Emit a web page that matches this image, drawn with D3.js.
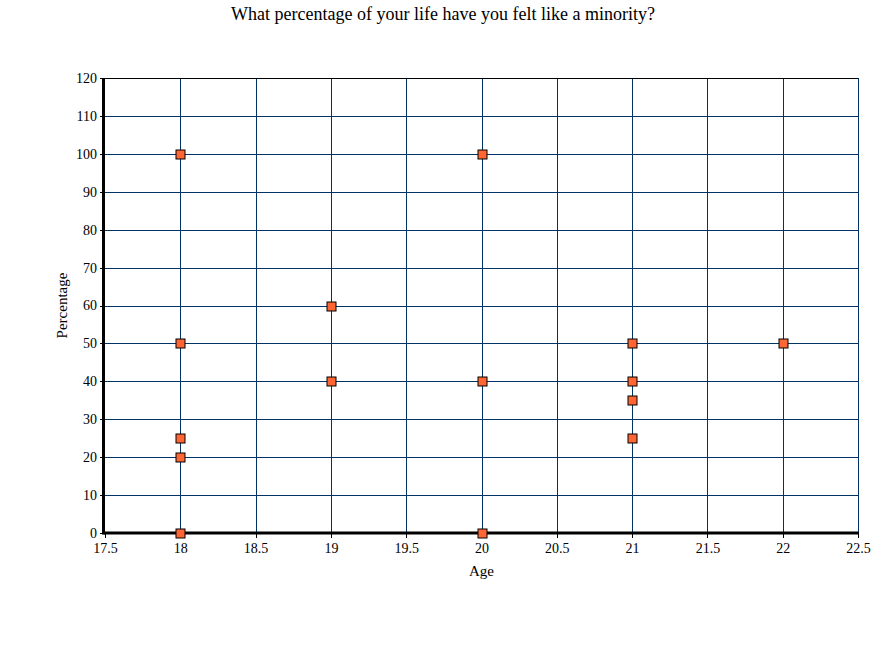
<!DOCTYPE html>
<html>
<head>
<meta charset="utf-8">
<script src="https://cdn.jsdelivr.net/npm/d3@7"></script>
<style>
  body { margin: 0; background: #fff; }
  text { font-family: "Liberation Serif", "Times New Roman", serif; }
</style>
</head>
<body>
<svg width="884" height="650"></svg>
<script>
// Data: age vs. percentage
const ages = [18, 18, 18, 18, 18, 19, 19, 20, 20, 20, 21, 21, 21, 21, 22];
const percentages = [100, 50, 25, 20, 0, 60, 40, 100, 40, 0, 50, 40, 35, 25, 50];
const xTicks = [17.5, 18, 18.5, 19, 19.5, 20, 20.5, 21, 21.5, 22, 22.5];
const yTicks = [0, 10, 20, 30, 40, 50, 60, 70, 80, 90, 100, 110, 120];

const points = ages.map((a, i) => ({ age: a, pct: percentages[i] }));

const margin = { top: 78, right: 26, bottom: 117, left: 105 };
const width = 884 - margin.left - margin.right;
const height = 650 - margin.top - margin.bottom;

const svg = d3.select("svg")
    .append("g")
    .attr("transform", `translate(${margin.left},${margin.top})`);

const x = d3.scaleLinear().domain([17.5, 22.5]).range([0, width]);
const y = d3.scaleLinear().domain([0, 120]).range([height, 0]);
const px = v => Math.round(v) + 0.5;

// grid
svg.selectAll(".vgrid")
    .data(xTicks.slice(1))
    .enter().append("line")
    .attr("x1", d => px(x(d))).attr("x2", d => px(x(d)))
    .attr("y1", 0).attr("y2", height)
    .attr("stroke", "#003366").attr("stroke-width", 1)
    .attr("shape-rendering", "crispEdges");

svg.selectAll(".hgrid")
    .data(yTicks.slice(1, -1))
    .enter().append("line")
    .attr("x1", 0).attr("x2", width)
    .attr("y1", d => px(y(d))).attr("y2", d => px(y(d)))
    .attr("stroke", "#003366").attr("stroke-width", 1)
    .attr("shape-rendering", "crispEdges");

// top border
svg.append("line")
    .attr("x1", 0).attr("x2", width)
    .attr("y1", 0.5).attr("y2", 0.5)
    .attr("stroke", "#000").attr("stroke-width", 1)
    .attr("shape-rendering", "crispEdges");

// axes
const xAxis = svg.append("g")
    .attr("transform", `translate(0,${height})`)
    .call(d3.axisBottom(x).tickValues(xTicks).tickSize(5).tickFormat(d => d));
const yAxis = svg.append("g")
    .call(d3.axisLeft(y).tickValues(yTicks).tickSize(5));

[xAxis, yAxis].forEach(a => {
    a.select(".domain").remove();
    a.selectAll(".tick line").attr("stroke", "#000").attr("shape-rendering", "crispEdges");
    a.selectAll(".tick text")
        .style("font-family", "Liberation Serif, serif")
        .style("font-size", "14px")
        .attr("fill", "#000");
});
xAxis.selectAll(".tick text").attr("dy", "0.85em");

svg.append("line")
    .attr("x1", -1.5).attr("x2", -1.5)
    .attr("y1", 0).attr("y2", height + 1.5)
    .attr("stroke", "#000").attr("stroke-width", 3);
svg.append("line")
    .attr("x1", -1.5).attr("x2", width + 1)
    .attr("y1", height).attr("y2", height)
    .attr("stroke", "#000").attr("stroke-width", 3);

// markers
svg.selectAll(".pt")
    .data(points)
    .enter().append("rect")
    .attr("x", d => Math.round(x(d.age)) - 4)
    .attr("y", d => Math.round(y(d.pct)) - 4)
    .attr("width", 9).attr("height", 9)
    .attr("fill", "#ff6633")
    .attr("stroke", "#000").attr("stroke-width", 1);

// titles
d3.select("svg").append("text")
    .attr("x", 443).attr("y", 20)
    .attr("text-anchor", "middle")
    .style("font-size", "18px")
    .text("What percentage of your life have you felt like a minority?");

svg.append("text")
    .attr("x", width / 2).attr("y", height + 43)
    .attr("text-anchor", "middle")
    .style("font-size", "15px")
    .text("Age");

svg.append("text")
    .attr("transform", `translate(-38,${height / 2}) rotate(-90)`)
    .attr("text-anchor", "middle")
    .style("font-size", "15px")
    .text("Percentage");
</script>
</body>
</html>
